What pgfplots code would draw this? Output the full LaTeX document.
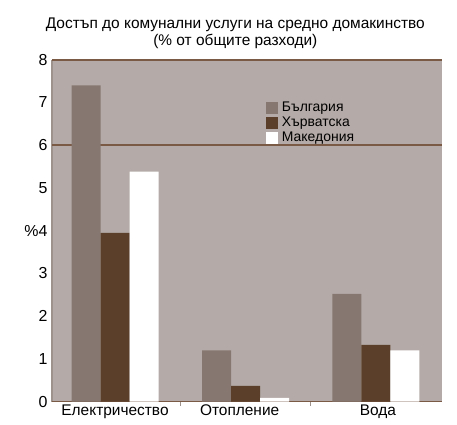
\documentclass[border=0pt]{standalone}
\usepackage{pgfplots}
\pgfplotsset{compat=1.18}
\usepackage{fontspec}
\setmainfont{Liberation Sans}
\definecolor{bg}{HTML}{B4AAA7}
\definecolor{bul}{HTML}{867871}
\definecolor{cro}{HTML}{5C3F2A}
\definecolor{ln}{HTML}{7A5A45}
\definecolor{yl}{HTML}{9E928D}
\begin{document}
\begin{tikzpicture}
\begin{axis}[
  at={(0,0)}, anchor=south west,
  scale only axis, width=390bp, height=342bp,
  xmin=-0.483, xmax=2.506, ymin=0, ymax=8,
  ybar=0pt, bar width=29bp,
  axis background/.style={fill=bg},
  axis lines*=left,
  axis line style={-},
  x axis line style={draw=ln, line width=1.5pt},
  y axis line style={draw=yl, line width=1.5pt},
  xtick={0,0.955,2.015},
  xticklabels={Електричество, Отопление, Вода},
  xtick style={draw=none},
  minor xtick={0.5,1.5},
  minor x tick style={draw=yl, line width=1pt},
  minor tick length=4bp,
  x tick label style={font=\fontsize{15.5}{16}\selectfont, yshift=2bp, inner sep=1pt},
  ytick={0,1,2,3,4,5,6,7,8},
  yticklabels={0,1,2,3,\%4,5,6,7,8},
  ytick style={draw=none},
  y tick label style={font=\fontsize{16}{16}\selectfont, xshift=-1bp},
  /pgf/number format/assume math mode=true,
  extra y ticks={0,6,8},
  extra y tick labels={},
  extra y tick style={grid=major, major grid style={draw=ln, line width=1.6pt}, tick style={draw=ln, line width=1.6pt}, major tick length=5bp},
  title={Достъп до комунални услуги на средно домакинство\\(\% от общите разходи)},
  title style={align=center, font=\fontsize{15.5}{17}\selectfont, at={(rel axis cs:0.47,1)}, anchor=south, yshift=2bp},
  legend style={draw=none, fill=none, at={(rel axis cs:0.548,0.88)}, anchor=north west,
    font=\fontsize{14}{14}\selectfont, row sep=0.5bp, column sep=4bp, inner sep=0pt,
    nodes={inner sep=0pt, text height=11bp, text depth=3.5bp}},
  legend cell align=left,
  area legend,
  legend image code/.code={\fill[#1] (0bp,-6bp) rectangle (12bp,6bp);},
]
\addplot[fill=bul, draw=none] coordinates {(0,7.4) (1,1.2) (2,2.52)};
\addplot[fill=cro, draw=none] coordinates {(0,3.95) (1,0.37) (2,1.33)};
\addplot[fill=white, draw=none] coordinates {(0,5.38) (1,0.09) (2,1.2)};
\legend{България, Хърватска, Македония}
\end{axis}
\pgfresetboundingbox
\path[use as bounding box] (-52bp,-23.3bp) rectangle (405bp,401.7bp);
\end{tikzpicture}
\end{document}
